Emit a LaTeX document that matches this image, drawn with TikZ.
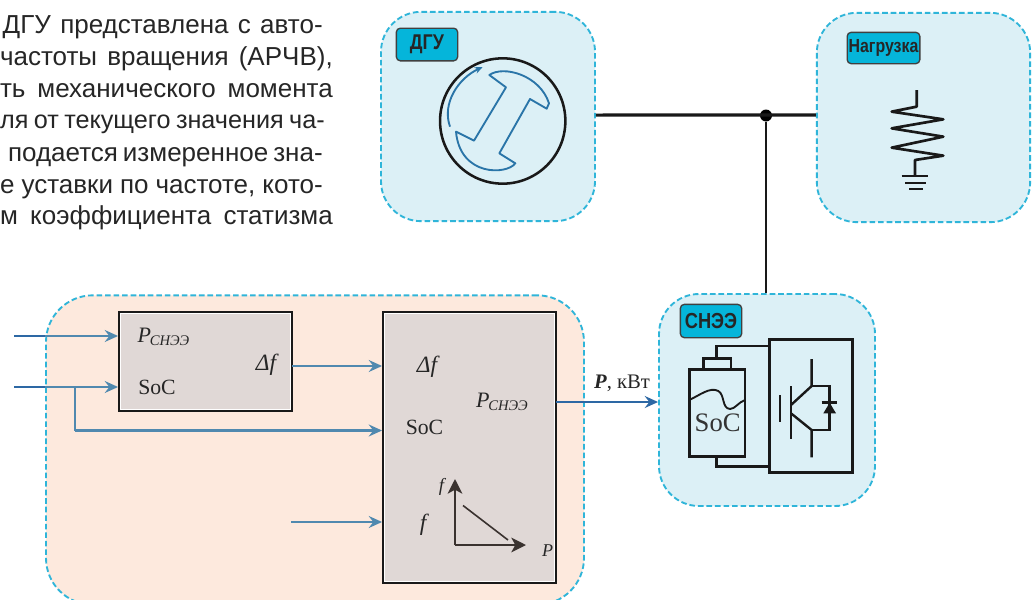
\documentclass[tikz,border=0pt]{standalone}
\usepackage{fontspec}
\setmainfont{Liberation Sans}
\newfontfamily\ser{Liberation Serif}
\newfontfamily\labf[FakeStretch=0.84]{Liberation Sans}
\usetikzlibrary{arrows.meta}
\definecolor{dashc}{HTML}{2FB5D9}
\definecolor{bluep}{HTML}{DCF0F6}
\definecolor{orangep}{HTML}{FDE9DD}
\definecolor{tagc}{HTML}{05B5DA}
\definecolor{boxc}{HTML}{E0D8D6}
\definecolor{sig}{HTML}{5089AF}
\definecolor{sigd}{HTML}{2D68A4}
\definecolor{rotor}{HTML}{2A75A8}
\definecolor{axisc}{HTML}{3A322F}
\tikzset{
  panel/.style={rectangle,rounded corners=30pt,draw=dashc,line width=1.4pt,dash pattern=on 4.2pt off 2.2pt,inner sep=0pt},
  tag/.style={rectangle,rounded corners=3pt,fill=tagc,draw=black!75,line width=1pt,inner sep=0pt,text=black!85},
  blockbox/.style={rectangle,fill=boxc,draw=black!90,line width=1.7pt,inner sep=0pt},
  bodytext/.style={anchor=base east,inner sep=0pt,text=black!85,font=\fontsize{19.5}{24}\selectfont},
  lab/.style={inner sep=0pt,text=black!85,font=\ser\fontsize{16.3}{18}\selectfont},
  sigline/.style={draw=sig,line width=1.8pt},
  sigarrow/.style={sigline,-{Stealth[length=10pt,width=9pt,inset=3.5pt]}},
  darkline/.style={draw=sigd,line width=1.8pt},
  power/.style={draw=black!90,line width=2.3pt},
  symb/.style={draw=black!90,line width=1.8pt,line join=miter}
}
\newcommand{\Psn}{\textit{P}\kern-1pt\raisebox{-2.5pt}{\fontsize{11}{12}\selectfont\textit{СНЭЭ}}}
\begin{document}
\begin{tikzpicture}[x=0.75pt,y=-0.75pt]
\clip (0,0) rectangle (1033,600);
\fill[white] (0,0) rectangle (1033,600);
% body text
\node[bodytext] (t1) at (323,33) {\makebox[240pt][s]{ДГУ представлена с авто-}};
\node[bodytext] (t2) at (333,65) {\makebox[249.5pt][s]{частоты вращения (АРЧВ),}};
\node[bodytext] (t3) at (333,97) {\makebox[249.5pt][s]{ть механического момента}};
\node[bodytext,font=\fontsize{18.9}{24}\selectfont] (t4) at (325,128.5) {\makebox[243.5pt][s]{ля от текущего значения ча-}};
\node[bodytext] (t5) at (323,161) {\makebox[236pt][s]{подается измеренное зна-}};
\node[bodytext] (t6) at (323,193) {\makebox[242pt][s]{е уставки по частоте, кото-}};
\node[bodytext] (t7) at (333,224.5) {\makebox[249.5pt][s]{м коэффициента статизма}};
% panels
\node[panel,fill=bluep,minimum width=160.5pt,minimum height=157pt] (dgu) at (488,116.5) {};
\node[panel,fill=bluep,minimum width=160pt,minimum height=157pt] (load) at (923.5,117.5) {};
\node[panel,fill=bluep,minimum width=162pt,minimum height=159pt] (snee) at (767,400) {};
\node[panel,fill=orangep,rounded corners=35pt,minimum width=403.5pt,minimum height=232pt] (ctrl) at (315,450) {};
% tags
\node[tag,minimum width=46pt,minimum height=24.5pt,font=\labf\bfseries\fontsize{16}{18}\selectfont] (tagd) at (427,44.5) {ДГУ};
\node[tag,minimum width=54.5pt,minimum height=23.5pt,font=\labf\bfseries\fontsize{14.2}{16}\selectfont] (tagl) at (883.5,48) {Нагрузка};
\node[tag,minimum width=46pt,minimum height=25pt,font=\labf\bfseries\fontsize{16.3}{18}\selectfont] (tags) at (711,321) {СНЭЭ};
% power lines
\node[circle,fill=black,inner sep=0pt,minimum size=9pt] (j) at (766,115.5) {};
\draw[power] ([yshift=1.1pt]dgu.east) -- ([yshift=1.9pt]load.west);
\draw[power,line width=2pt] (j) -- (j |- snee.north);
% generator
\node[circle,draw=black!90,line width=1.9pt,minimum size=94pt,inner sep=0pt] (gen) at (502.7,121) {};
\begin{scope}[shift={(370,0)},x=0.25pt,y=-0.25pt]
  \draw[draw=rotor,line width=1.4pt,line join=round]
    (358,225) .. controls (400,195) and (510,225) .. (537,310) -- (530,326) -- (480,297) -- (388,460) -- (436,490)
    .. controls (410,525) and (270,530) .. (258,395) -- (312,422) -- (408,262) -- cycle;
  \draw[draw=rotor,line width=1.4pt,-{Stealth[length=6pt,width=5pt]}]
    (240,380) .. controls (215,310) and (265,235) .. (338,201);
\end{scope}
% resistor
\begin{scope}[shift={(800,0)},x=0.25pt,y=-0.25pt]
  \draw[symb,line width=2pt,line join=round] (350,270) -- (350,320) -- (275,335) -- (430,358) -- (275,385) -- (430,410) -- (275,443) -- (430,467) -- (345,480) -- (345,527);
  \draw[symb,line width=1.7pt] (305,527) -- (385,527) (315,548) -- (378,548) (327,566) -- (368,566);
\end{scope}
% storage
\begin{scope}[shift={(650,285)},x=0.25pt,y=-0.25pt]
  \draw[symb] (358,163) rectangle (608,563);
  \draw[symb] (118,253) rectangle (285,515);
  \draw[symb] (160,253) -- (160,220) -- (243,220) -- (243,253);
  \draw[symb] (200,220) -- (200,183) -- (358,183);
  \draw[symb] (200,515) -- (200,545) -- (358,545);
  \draw[symb,line width=1.4pt] (118,345) .. controls (150,330) and (180,305) .. (205,318) .. controls (225,330) and (215,370) .. (240,372) .. controls (255,372) and (265,352) .. (285,345);
  \node[inner sep=0pt,text=black!80,font=\ser\fontsize{20}{22}\selectfont] (soc3) at (203,412) {SoC};
  \draw[symb] (390,330) -- (390,410);
  \draw[symb] (423,303) -- (423,462);
  \draw[symb,line join=round] (485,222) -- (485,303) -- (423,360);
  \draw[symb,line join=round] (423,385) -- (485,435) -- (485,517);
  \draw[symb] (485,303) -- (538,303) -- (538,435) -- (485,435);
  \fill[black!90] (520,385) -- (558,385) -- (539,353) -- cycle;
  \draw[symb] (515,353) -- (561,353);
\end{scope}
% control boxes
\node[blockbox,minimum width=129.5pt,minimum height=74pt] (box1) at (205.5,361.5) {};
\node[blockbox,minimum width=129.5pt,minimum height=203pt] (box2) at (469.5,447.5) {};
\draw[white,line width=0.6pt] ([shift={(2.5,2.5)}]box1.north west) rectangle ([shift={(-2.5,-2.5)}]box1.south east);
\draw[white,line width=0.6pt] ([shift={(2.5,2.5)}]box2.north west) rectangle ([shift={(-2.5,-2.5)}]box2.south east);
% signals
\coordinate (in1) at (14,336);
\coordinate (in2) at (14,387);
\coordinate (in3) at (291,522);
\coordinate (t) at (75,387);
\coordinate (b1o) at (292,366);
\coordinate (tb) at (75,430.5);
\draw[sigarrow] (in1) -- (in1 -| box1.west);
\draw[sigarrow] (in2) -- (in2 -| box1.west);
\draw[darkline] (in1) -- (in1 -| ctrl.west);
\draw[darkline] (in2) -- (in2 -| ctrl.west);
\draw[sigline] (t) -- (tb);
\draw[sigarrow] (tb) -- (tb -| box2.west);
\draw[sigarrow] (b1o) -- (b1o -| box2.west);
\draw[sigarrow] (in3) -- (in3 -| box2.west);
\coordinate (out) at (556,402);
\draw[sigarrow,draw=sigd] (out) -- (out -| snee.west);
% labels box1
\node[lab,font=\ser\fontsize{16.5}{18}\selectfont] (l1) at (163.5,337) {\Psn};
\node[lab] (l2) at (157,387) {SoC};
\node[lab,font=\ser\itshape\fontsize{17.5}{20}\selectfont] (l3) at (266,365) {Δf};
% labels box2
\node[lab,font=\ser\itshape\fontsize{17.5}{20}\selectfont] (l4) at (427,367) {Δf};
\node[lab] (l5) at (424.5,427) {SoC};
\node[lab,font=\ser\fontsize{16.5}{18}\selectfont] (l6) at (502,402) {\Psn};
\node[lab,font=\ser\itshape\fontsize{17.5}{20}\selectfont] (l7) at (423,525) {f};
\node[lab,font=\ser\itshape\fontsize{14}{16}\selectfont] (l8) at (441.5,487) {f};
\node[lab,font=\ser\itshape\fontsize{13.5}{15}\selectfont] (l9) at (547.5,551) {P};
\node[lab,font=\ser\fontsize{15.5}{17}\selectfont] (l10) at (622,383) {\textbf{\textit{P}}, кВт};
% droop
\coordinate (o) at (455,545);
\coordinate (fa) at (455,479);
\coordinate (pa) at (526,545);
\draw[draw=axisc,line width=1.6pt,-{Stealth[length=11pt,width=11pt,inset=3pt]}] (o) -- (fa);
\draw[draw=axisc,line width=1.6pt,-{Stealth[length=11pt,width=11pt,inset=3pt]}] (o) -- (pa);
\coordinate (d1) at (463,505.5);
\coordinate (d2) at (508,540);
\draw[draw=axisc,line width=1.2pt] (d1) -- (d2);
\end{tikzpicture}
\end{document}
